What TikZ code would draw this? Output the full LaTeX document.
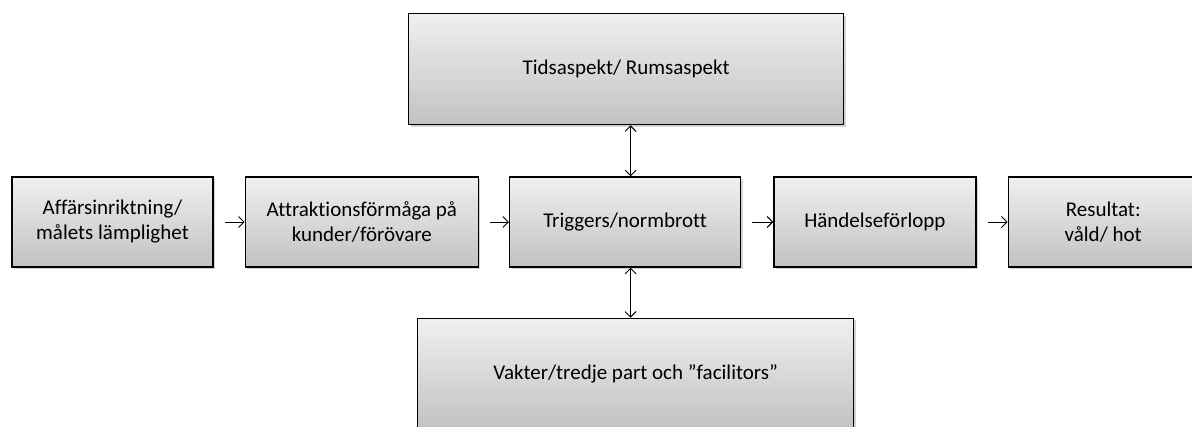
\documentclass[tikz,border=0pt]{standalone}
\usepackage{fontspec}
\setmainfont[Ligatures=NoCommon]{Carlito}
\usetikzlibrary{positioning,shadows,arrows.meta}

\begin{document}
\begin{tikzpicture}[
  x=1pt, y=-1pt,
  >={Straight Barb[length=5.5pt,width=11pt]},
  faktor/.style={
    draw,
    line width=1.3pt,
    rectangle,
    top color=gray!12,
    bottom color=gray!48,
    drop shadow={shadow xshift=2pt,shadow yshift=-2pt,opacity=0.35},
    minimum height=90pt,
    align=center,
    font=\fontsize{21}{25}\selectfont,
    inner sep=0pt
    },
  pil/.style={->, line width=0.9pt}
]
\useasboundingbox (0,0) rectangle (1192,427);

% row of factors
\node [faktor, minimum width=201pt] (affar) at (112.5,222) {Affärsinriktning/\\målets lämplighet};
\node [faktor, minimum width=233pt, right=31pt of affar] (attr) {Attraktionsförmåga på\\kunder/förövare};
\node [faktor, minimum width=231pt, right=30pt of attr] (trig) {Triggers/normbrott};
\node [faktor, minimum width=202pt, right=32pt of trig] (handel) {Händelseförlopp};
\node [faktor, minimum width=190pt, right=31pt of handel] (res) {Resultat:\\våld/ hot};

% above and below
\node [faktor, minimum width=435pt, minimum height=111pt, above=51pt of trig, xshift=1pt] (tid) {Tidsaspekt/ Rumsaspekt};
\node [faktor, minimum width=436pt, minimum height=111pt, below=50pt of trig, xshift=10.5pt] (vakt) {Vakter/tredje part och ”facilitors”};

\draw [pil] ([xshift=11pt]affar.east) -- (attr.west);
\draw [pil] ([xshift=11pt]attr.east) -- (trig.west);
\draw [pil] ([xshift=11pt]trig.east) -- (handel.west);
\draw [pil] ([xshift=11pt]handel.east) -- (res.west);
\draw [pil, <->] ([xshift=5.5pt]trig.north) -- ([xshift=5.5pt]trig.north |- tid.south);
\draw [pil, <->] ([xshift=5.5pt]trig.south) -- ([xshift=5.5pt]trig.south |- vakt.north);

\end{tikzpicture}
\end{document}
